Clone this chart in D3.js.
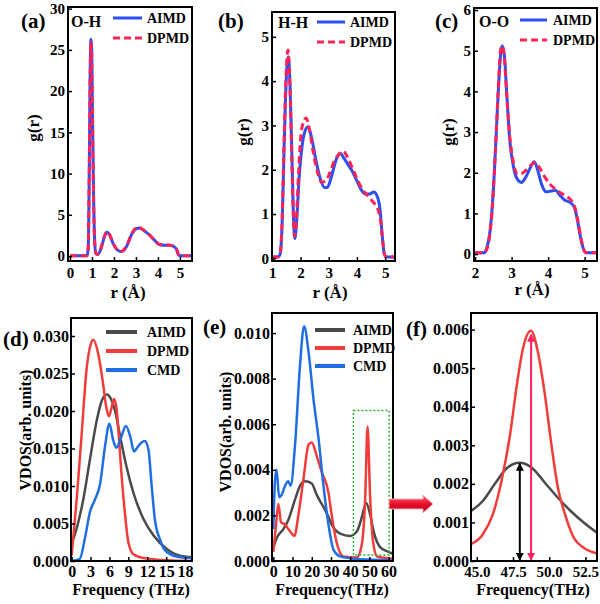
<!DOCTYPE html>
<html>
<head>
<meta charset="utf-8">
<style>
  body { margin: 0; background: #fff; }
  svg { display: block; }
  text { font-family: "Liberation Serif", "Times New Roman", serif; font-weight: bold; fill: #000; }
</style>
</head>
<body>
<svg id="chart" width="600" height="604"></svg>
<script src="https://d3js.org/d3.v7.min.js"></script>
<script>

// ---- g(r) data, [r (A), g(r)] ----
var ohAimd = [[0,0.05],[0.6,0.05],[0.78,0.05],[0.83,1],[0.87,8],[0.91,20],[0.95,26.3],[0.98,25.6],[1.02,18],[1.07,8],[1.12,2],[1.18,0.3],[1.25,0.2],[1.4,0.8],[1.55,2.2],[1.68,2.9],[1.8,2.6],[1.95,1.6],[2.1,0.9],[2.3,0.55],[2.45,0.7],[2.6,1.3],[2.8,2.6],[3.0,3.3],[3.15,3.4],[3.35,3.1],[3.6,2.6],[3.85,1.9],[4.05,1.4],[4.3,1.3],[4.55,1.3],[4.75,1.1],[4.85,0.8],[4.93,0.2],[5.0,0.05],[5.6,0.05]];
var ohDpmd = [[0,0.05],[0.6,0.05],[0.78,0.05],[0.83,1.1],[0.87,8.5],[0.91,20.5],[0.95,26.0],[0.98,25.2],[1.02,17.5],[1.07,7.5],[1.12,1.8],[1.18,0.3],[1.25,0.2],[1.4,0.9],[1.55,2.3],[1.67,2.95],[1.8,2.6],[1.95,1.6],[2.1,0.9],[2.3,0.55],[2.45,0.75],[2.6,1.4],[2.8,2.7],[3.0,3.4],[3.12,3.5],[3.35,3.15],[3.6,2.6],[3.85,1.9],[4.05,1.45],[4.3,1.35],[4.55,1.3],[4.75,1.1],[4.85,0.8],[4.93,0.2],[5.0,0.05],[5.6,0.05]];

var hhAimd = [[1,0.03],[1.2,0.03],[1.28,0.1],[1.35,0.8],[1.42,2.5],[1.5,4.1],[1.57,4.55],[1.63,3.9],[1.7,2.2],[1.76,0.8],[1.8,0.45],[1.86,0.8],[1.95,1.8],[2.05,2.5],[2.15,2.85],[2.27,2.97],[2.4,2.7],[2.55,2.2],[2.7,1.8],[2.85,1.6],[2.95,1.6],[3.1,1.85],[3.25,2.2],[3.4,2.37],[3.55,2.25],[3.7,2.1],[3.85,1.95],[4.0,1.75],[4.15,1.55],[4.3,1.45],[4.45,1.45],[4.6,1.5],[4.72,1.4],[4.82,1.1],[4.9,0.5],[4.97,0.1],[5.05,0.03],[5.4,0.03]];
var hhDpmd = [[1,0.03],[1.2,0.03],[1.28,0.1],[1.35,0.9],[1.42,2.7],[1.5,4.3],[1.56,4.7],[1.62,4.0],[1.69,2.3],[1.75,0.9],[1.79,0.5],[1.85,0.85],[1.93,1.9],[2.02,2.8],[2.12,3.1],[2.2,3.17],[2.32,2.9],[2.45,2.4],[2.6,1.95],[2.75,1.72],[2.9,1.75],[3.05,1.95],[3.2,2.2],[3.4,2.37],[3.52,2.42],[3.65,2.3],[3.8,2.1],[4.0,1.8],[4.2,1.55],[4.4,1.4],[4.6,1.25],[4.75,1.1],[4.85,0.8],[4.92,0.35],[5.0,0.05],[5.4,0.03]];

var ooAimd = [[2,0.03],[2.25,0.03],[2.32,0.15],[2.4,0.5],[2.48,1.3],[2.56,2.6],[2.63,3.9],[2.7,4.9],[2.74,5.12],[2.8,4.9],[2.87,3.9],[2.95,2.8],[3.05,2.15],[3.15,1.85],[3.27,1.76],[3.38,1.88],[3.5,2.1],[3.62,2.27],[3.72,2.05],[3.82,1.72],[3.95,1.53],[4.08,1.55],[4.2,1.57],[4.32,1.45],[4.45,1.33],[4.6,1.27],[4.72,1.15],[4.8,0.85],[4.88,0.45],[4.96,0.15],[5.05,0.03],[5.4,0.03]];
var ooDpmd = [[2,0.03],[2.25,0.03],[2.32,0.12],[2.4,0.45],[2.48,1.25],[2.56,2.6],[2.63,4.0],[2.69,4.95],[2.73,5.12],[2.79,4.95],[2.86,4.0],[2.95,2.9],[3.05,2.25],[3.15,1.98],[3.25,1.97],[3.38,2.05],[3.52,2.18],[3.65,2.25],[3.78,2.1],[3.92,1.88],[4.05,1.72],[4.2,1.6],[4.35,1.5],[4.5,1.42],[4.65,1.3],[4.75,1.1],[4.82,0.8],[4.9,0.4],[4.97,0.12],[5.05,0.03],[5.4,0.03]];

// ---- VDOS data, [frequency (THz), VDOS] ----
var lowAimd = [[0,0.0023],[0.5,0.0035],[1,0.005],[1.85,0.0082],[2.9,0.0135],[4,0.0188],[4.8,0.0214],[5.6,0.0222],[6.3,0.0215],[6.9,0.0200],[7.7,0.0166],[8.7,0.0126],[9.8,0.0091],[11.4,0.0056],[13,0.0034],[15.1,0.0016],[17.2,0.0007],[19.2,0.0005]];
var lowDpmd = [[0,0.0007],[0.8,0.0082],[1.6,0.017],[2.4,0.0258],[3.0,0.0288],[3.45,0.0295],[4.2,0.0277],[5.0,0.0236],[5.5,0.0205],[5.9,0.0193],[6.3,0.0203],[6.7,0.0216],[7.1,0.0205],[7.5,0.0165],[7.9,0.0117],[8.5,0.006],[9.0,0.0025],[9.8,0.0009],[11.4,0.0004],[15,0.0001],[19.2,0]];
var lowCmd = [[0,0],[1.3,0.0003],[2.1,0.003],[2.9,0.0065],[3.7,0.0082],[4.5,0.0102],[5.3,0.0153],[6.0,0.0183],[6.6,0.0161],[7.1,0.0151],[7.9,0.0166],[8.6,0.018],[9.3,0.0166],[9.9,0.0146],[10.4,0.0151],[11.1,0.0158],[11.6,0.016],[12.2,0.0148],[12.7,0.01],[13.2,0.0056],[14.0,0.0029],[15.1,0.0012],[17.2,0.0005],[19.2,0.0004]];

var fullAimd = [[0,0.0006],[1.7,0.001],[5.2,0.0014],[7.8,0.0018],[11.3,0.0027],[13.9,0.0033],[16.5,0.0035],[20,0.0034],[22.6,0.0029],[25.2,0.0025],[27.8,0.0021],[30.4,0.0016],[34.8,0.0012],[40,0.0011],[43.5,0.0013],[46,0.0019],[48.3,0.00255],[50.5,0.002],[52.2,0.0013],[55.7,0.0006],[60,0.0004],[62.5,0.0003]];
var fullDpmd = [[0,0.0004],[1.4,0.0016],[2.6,0.0025],[4,0.0017],[6.1,0.0016],[8.7,0.0013],[11,0.0011],[13,0.002],[15.7,0.0036],[18.3,0.0051],[20,0.0052],[22.6,0.0046],[25.2,0.0039],[28.7,0.003],[30.4,0.002],[33,0.0008],[36.5,0.0002],[43.5,0.00015],[46,0.0007],[47.8,0.0027],[49.05,0.0059],[50.4,0.0028],[52,0.0008],[54,0.0002],[62.5,0.0001]];
var fullCmd = [[0,0.0014],[0.9,0.0036],[1.7,0.004],[3,0.0028],[4.3,0.0029],[6.1,0.0033],[7.8,0.0035],[9,0.0033],[11.3,0.0051],[13.9,0.0086],[16,0.0103],[18.3,0.0092],[20.9,0.0071],[23.5,0.0054],[26.1,0.0033],[28.7,0.0016],[31.3,0.0005],[34.8,0.0002],[41.7,0.0001],[52,0.00006],[62.5,0.00003]];

var zoomAimd = [[44.5,0.00127],[45.4,0.00155],[46.3,0.00203],[47.1,0.00242],[47.95,0.00255],[48.8,0.00242],[49.7,0.00203],[50.6,0.00164],[51.5,0.00129],[52.4,0.00099],[53.3,0.00073]];
var zoomDpmd = [[44.5,0.00042],[45.4,0.00068],[46.1,0.0012],[46.7,0.00207],[47.3,0.00328],[47.77,0.00458],[48.2,0.00553],[48.75,0.00597],[49.2,0.00545],[49.7,0.00432],[50.15,0.00302],[50.6,0.0019],[51.1,0.0012],[51.7,0.0006],[52.4,0.00034],[53.3,0.0002]];

// peak markers in (f): [frequency, height]
var peakAimd = [47.97, 0.00255];
var peakDpmd = [48.75, 0.0059];
// zoomed region marked in (e)
var boxX = [41.7, 60.3];
var boxY = [0.00026, 0.0066];

var grTicksA = [0, 1, 2, 3, 4, 5];
var grTicksB = [1, 2, 3, 4, 5];
var grTicksC = [2, 3, 4, 5];
var freqTicksD = [0, 3, 6, 9, 12, 15, 18];
var freqTicksE = [0, 10, 20, 30, 40, 50, 60];
var freqTicksF = [45, 47.5, 50, 52.5];

var svg = d3.select('#chart');
var defs = svg.append('defs');

var BLUE = '#2d4ef5', PINK = '#ff2257';
var GRAY = '#4a4a4a', RED = '#f23c3c', CBLUE = '#1f6fe3';

function panel(p) {
	var x = d3.scaleLinear().domain(p.xDomain).range([p.left, p.right]);
	var y = d3.scaleLinear().domain(p.yDomain).range([p.bottom, p.top]);
	var g = svg.append('g');

	defs.append('clipPath').attr('id', 'clip-' + p.name)
		.append('rect')
		.attr('x', p.left).attr('y', p.top)
		.attr('width', p.right - p.left).attr('height', p.bottom - p.top);

	var line = d3.line()
		.x(function(d) { return x(d[0]); })
		.y(function(d) { return y(d[1]); })
		.curve(d3.curveMonotoneX);

	p.series.forEach(function(s) {
		g.append('path')
			.datum(s.data)
			.attr('clip-path', 'url(#clip-' + p.name + ')')
			.attr('d', line)
			.attr('fill', 'none')
			.attr('stroke', s.color)
			.attr('stroke-width', s.width)
			.attr('stroke-dasharray', s.dash || null)
			.attr('stroke-linejoin', 'round');
	});

	var xa = g.append('g')
		.attr('transform', 'translate(0,' + p.bottom + ')')
		.call(d3.axisBottom(x).tickValues(p.xTicks).tickSize(-4).tickPadding(p.xPad).tickFormat(p.xFormat));
	var ya = g.append('g')
		.attr('transform', 'translate(' + p.left + ',0)')
		.call(d3.axisLeft(y).tickValues(p.yTicks).tickSize(-4).tickPadding(p.yPad).tickFormat(p.yFormat));
	[xa, ya].forEach(function(a) {
		a.select('.domain').remove();
		a.attr('font-family', null).attr('font-size', null);
		a.selectAll('line').attr('stroke-width', 1.5);
		a.selectAll('text').style('font-size', p.tickSize + 'px');
	});
	if (p.xTickSize) xa.selectAll('text').style('font-size', p.xTickSize + 'px');

	g.append('rect')
		.attr('x', p.left).attr('y', p.top)
		.attr('width', p.right - p.left).attr('height', p.bottom - p.top)
		.attr('fill', 'none').attr('stroke', '#000').attr('stroke-width', 2);

	g.append('text').attr('x', p.tag[0]).attr('y', p.tag[1])
		.style('font-size', '21px').text(p.tag[2]);

	if (p.yTitle) {
		g.append('text')
			.attr('transform', 'translate(' + p.yTitle[0] + ',' + p.yTitle[1] + ') rotate(-90)')
			.attr('text-anchor', 'middle')
			.attr('dy', '0.35em')
			.style('font-size', p.titleSize + 'px')
			.text(p.yTitle[2]);
	}
	g.append('text')
		.attr('x', p.xTitle[0]).attr('y', p.xTitle[1])
		.attr('text-anchor', 'middle')
		.style('font-size', p.titleSize + 'px')
		.text(p.xTitle[2]);

	if (p.pair) {
		g.append('text').attr('x', p.pair[0]).attr('y', p.pair[1])
			.style('font-size', '16px').text(p.pair[2]);
	}

	if (p.legend) {
		p.legend.items.forEach(function(s, i) {
			var ly = p.legend.y + i * p.legend.step;
			g.append('line')
				.attr('x1', p.legend.x).attr('x2', p.legend.x + p.legend.len)
				.attr('y1', ly).attr('y2', ly)
				.attr('stroke', s.color)
				.attr('stroke-width', p.legend.width)
				.attr('stroke-dasharray', s.dash || null);
			g.append('text')
				.attr('x', p.legend.x + p.legend.len + p.legend.gap).attr('y', ly)
				.attr('dy', '0.35em')
				.style('font-size', '14px')
				.text(s.name);
		});
	}
	return { x: x, y: y, g: g };
}

var grFmt = d3.format('d');

panel({
	name: 'a', left: 68, right: 192, top: 7, bottom: 261,
	xDomain: [-0.09, 5.55], yDomain: [-0.6, 30.2],
	xTicks: grTicksA, yTicks: [0, 5, 10, 15, 20, 25, 30],
	xFormat: grFmt, yFormat: grFmt, xPad: 6, yPad: 3, tickSize: 15, titleSize: 17,
	tag: [21, 28, '(a)'], yTitle: [33, 128, 'g(r)'], xTitle: [128, 298, 'r (Å)'],
	pair: [71, 27, 'O-H'],
	series: [
		{ data: ohAimd, color: BLUE, width: 3 },
		{ data: ohDpmd, color: PINK, width: 3, dash: '7,4' }
	],
	legend: { x: 113, y: 18, step: 20, len: 29, gap: 5, width: 3,
		items: [{ name: 'AIMD', color: BLUE }, { name: 'DPMD', color: PINK, dash: '7,4' }] }
});

panel({
	name: 'b', left: 272, right: 395, top: 12, bottom: 261,
	xDomain: [0.99, 5.35], yDomain: [-0.06, 5.56],
	xTicks: grTicksB, yTicks: [0, 1, 2, 3, 4, 5],
	xFormat: grFmt, yFormat: grFmt, xPad: 6, yPad: 3, tickSize: 15, titleSize: 17,
	tag: [218, 28, '(b)'], yTitle: [243, 132, 'g(r)'], xTitle: [330, 298, 'r (Å)'],
	pair: [278, 28, 'H-H'],
	series: [
		{ data: hhAimd, color: BLUE, width: 3 },
		{ data: hhDpmd, color: PINK, width: 3, dash: '7,4' }
	],
	legend: { x: 317, y: 22, step: 20, len: 28, gap: 5, width: 3,
		items: [{ name: 'AIMD', color: BLUE }, { name: 'DPMD', color: PINK, dash: '7,4' }] }
});

panel({
	name: 'c', left: 474, right: 597, top: 8, bottom: 261,
	xDomain: [1.97, 5.34], yDomain: [-0.17, 6.05],
	xTicks: grTicksC, yTicks: [0, 1, 2, 3, 4, 5, 6],
	xFormat: grFmt, yFormat: grFmt, xPad: 6, yPad: 3, tickSize: 15, titleSize: 17,
	tag: [435, 28, '(c)'], yTitle: [448, 132, 'g(r)'], xTitle: [532, 295, 'r (Å)'],
	pair: [479, 27, 'O-O'],
	series: [
		{ data: ooAimd, color: BLUE, width: 3 },
		{ data: ooDpmd, color: PINK, width: 3, dash: '7,4' }
	],
	legend: { x: 520, y: 20, step: 20, len: 27, gap: 6, width: 3,
		items: [{ name: 'AIMD', color: BLUE }, { name: 'DPMD', color: PINK, dash: '7,4' }] }
});

var vdosItems = [{ name: 'AIMD', color: GRAY }, { name: 'DPMD', color: RED }, { name: 'CMD', color: CBLUE }];

panel({
	name: 'd', left: 71, right: 192, top: 318, bottom: 561,
	xDomain: [-0.1, 19.1], yDomain: [0, 0.0324],
	xTicks: freqTicksD, yTicks: [0, 0.005, 0.01, 0.015, 0.02, 0.025, 0.03],
	xFormat: grFmt, yFormat: d3.format('.3f'), xPad: 5, yPad: 2, tickSize: 16, titleSize: 16,
	tag: [3, 346, '(d)'], yTitle: [25, 430, 'VDOS(arb. units)'], xTitle: [131, 595, 'Frequency (THz)'],
	series: [
		{ data: lowAimd, color: GRAY, width: 2.5 },
		{ data: lowDpmd, color: RED, width: 2.5 },
		{ data: lowCmd, color: CBLUE, width: 2.5 }
	],
	legend: { x: 106, y: 332, step: 19, len: 31, gap: 10, width: 4, items: vdosItems }
});

var pe = panel({
	name: 'e', left: 272, right: 393, top: 313, bottom: 561,
	xDomain: [-0.7, 62.3], yDomain: [0, 0.01088],
	xTicks: freqTicksE, yTicks: [0, 0.002, 0.004, 0.006, 0.008, 0.01],
	xFormat: grFmt, yFormat: d3.format('.3f'), xPad: 5, yPad: 2, tickSize: 16, titleSize: 16,
	tag: [203, 334, '(e)'], yTitle: [225, 432, 'VDOS(arb. units)'], xTitle: [332, 595, 'Frequency(THz)'],
	series: [
		{ data: fullAimd, color: GRAY, width: 2.5 },
		{ data: fullDpmd, color: RED, width: 2.5 },
		{ data: fullCmd, color: CBLUE, width: 2.5 }
	],
	legend: { x: 315, y: 330, step: 18, len: 30, gap: 8, width: 4, items: vdosItems }
});

pe.g.append('rect')
	.attr('x', pe.x(boxX[0])).attr('y', pe.y(boxY[1]))
	.attr('width', pe.x(boxX[1]) - pe.x(boxX[0]))
	.attr('height', pe.y(boxY[0]) - pe.y(boxY[1]))
	.attr('fill', 'none').attr('stroke', '#2ab43a')
	.attr('stroke-width', 1.5).attr('stroke-dasharray', '2,2');

var pf = panel({
	name: 'f', left: 471, right: 597, top: 313, bottom: 561,
	xDomain: [44.6, 53.3], yDomain: [0, 0.00643],
	xTicks: freqTicksF, yTicks: [0, 0.001, 0.002, 0.003, 0.004, 0.005, 0.006],
	xFormat: d3.format('.1f'), yFormat: d3.format('.3f'), xPad: 5, yPad: 2, tickSize: 16, xTickSize: 15, titleSize: 16,
	tag: [406, 336, '(f)'], xTitle: [533, 595, 'Frequency(THz)'],
	series: [
		{ data: zoomAimd, color: GRAY, width: 2.5 },
		{ data: zoomDpmd, color: RED, width: 2.5 }
	]
});

// double-headed arrows marking peak heights
function marker(id, color) {
	var m = defs.append('marker').attr('id', id)
		.attr('viewBox', '0 0 10 10').attr('refX', 9).attr('refY', 5)
		.attr('markerWidth', 4).attr('markerHeight', 4)
		.attr('orient', 'auto-start-reverse');
	m.append('path').attr('d', 'M0,0 L10,5 L0,10 z').attr('fill', color);
}
marker('head-k', '#000');
marker('head-r', '#ff1f5a');

[[peakAimd, '#000', 'head-k'], [peakDpmd, '#ff1f5a', 'head-r']].forEach(function(a) {
	pf.g.append('line')
		.attr('x1', pf.x(a[0][0])).attr('x2', pf.x(a[0][0]))
		.attr('y1', pf.y(0) - 1).attr('y2', pf.y(a[0][1]) + 1)
		.attr('stroke', a[1]).attr('stroke-width', 2)
		.attr('marker-start', 'url(#' + a[2] + ')')
		.attr('marker-end', 'url(#' + a[2] + ')');
});

// block arrow from (e) to (f)
var grad = defs.append('linearGradient').attr('id', 'arrowGrad')
	.attr('x1', 0).attr('y1', 0).attr('x2', 0).attr('y2', 1);
grad.append('stop').attr('offset', '0%').attr('stop-color', '#ff6070');
grad.append('stop').attr('offset', '50%').attr('stop-color', '#e8102a');
grad.append('stop').attr('offset', '100%').attr('stop-color', '#b00018');

svg.append('path')
	.attr('d', 'M389,499 L423,499 L423,495 L433,504 L423,513 L423,509 L389,509 Z')
	.attr('fill', 'url(#arrowGrad)')
	.attr('stroke', '#ffb0b8').attr('stroke-width', 1);

</script>
</body>
</html>
